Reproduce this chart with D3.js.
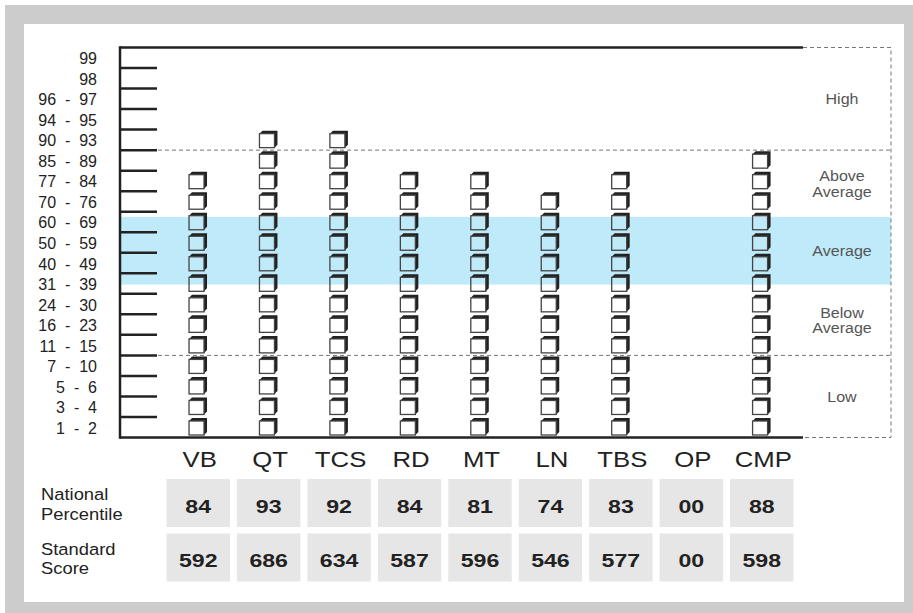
<!DOCTYPE html>
<html>
<head>
<meta charset="utf-8">
<script src="https://cdn.jsdelivr.net/npm/d3@7"></script>
<style>
  body { margin: 0; background: #fff; }
  svg { display: block; font-family: "Liberation Sans", Arial, sans-serif; }
</style>
</head>
<body>
<div id="chart"></div>
<script>
// percentile bands, bottom to top
const bandLow  = [1, 3, 5, 7, 11, 16, 24, 31, 40, 50, 60, 70, 77, 85, 90, 94, 96, 98, 99];
const bandHigh = [2, 4, 6, 10, 15, 23, 30, 39, 49, 59, 69, 76, 84, 89, 93, 95, 97, 98, 99];

const categories = ["VB", "QT", "TCS", "RD", "MT", "LN", "TBS", "OP", "CMP"];
const percentiles = [84, 93, 92, 84, 81, 74, 83, 0, 88];
const standardScores = [592, 686, 634, 587, 596, 546, 577, 0, 598];

// performance zones, in band units (0 = bottom of "1 - 2")
const zoneNames = [["Low"], ["Below", "Average"], ["Average"], ["Above", "Average"], ["High"]];
const zoneFrom = [0, 4, 7.45, 10.75, 14];
const zoneTo = [4, 7.45, 10.75, 14, 19];
const dashedAt = [4, 14];

const W = 913, H = 613;
const axisLeft = 120, axisRight = 803, frameRight = 891;

const svg = d3.select("#chart").append("svg")
  .attr("width", W).attr("height", H);

// frame
svg.append("rect").attr("x", 5).attr("y", 5).attr("width", W).attr("height", H).attr("fill", "#cccccc");
svg.append("rect").attr("x", 24).attr("y", 24).attr("width", 880).attr("height", 578).attr("fill", "#fff");

const y = d3.scaleLinear().domain([0, bandLow.length]).range([437.5, 47.5]);
const x = d3.scaleBand().domain(categories).range([163, 797]).paddingInner(0.1).paddingOuter(0.05);

// average zone shading
svg.append("rect")
  .attr("x", axisLeft).attr("width", frameRight - axisLeft)
  .attr("y", y(zoneTo[2])).attr("height", y(zoneFrom[2]) - y(zoneTo[2]))
  .attr("fill", "#bfeafa");

// dashed zone borders
const dash = svg.append("g").attr("stroke", "#777").attr("stroke-width", 1).attr("stroke-dasharray", "4,3").attr("fill", "none");
dash.selectAll("line.h").data(dashedAt).join("line")
  .attr("x1", 158).attr("x2", frameRight)
  .attr("y1", d => y(d)).attr("y2", d => y(d));
dash.append("path")
  .attr("d", `M${axisRight},${y(bandLow.length)}H${frameRight}V${y(0)}H${axisRight}`);

// axes
const ax = svg.append("g").attr("stroke", "#222").attr("stroke-width", 2.5);
ax.append("line").attr("x1", axisLeft).attr("x2", axisRight).attr("y1", y(bandLow.length)).attr("y2", y(bandLow.length));
ax.append("line").attr("x1", axisLeft).attr("x2", axisRight).attr("y1", y(0)).attr("y2", y(0));
ax.append("line").attr("x1", axisLeft).attr("x2", axisLeft).attr("y1", y(bandLow.length) - 1.2).attr("y2", y(0) + 1.2);
ax.selectAll("line.tick").data(d3.range(1, bandLow.length)).join("line")
  .attr("x1", axisLeft).attr("x2", 157)
  .attr("y1", d => y(d)).attr("y2", d => y(d));

// band labels
svg.append("g").selectAll("text").data(bandLow).join("text")
  .attr("x", 97)
  .attr("y", (d, i) => (y(i) + y(i + 1)) / 2 + 6.5)
  .attr("text-anchor", "end")
  .attr("font-size", 16).attr("fill", "#222")
  .style("white-space", "pre")
  .text((d, i) => d === bandHigh[i] ? `${d}` : `${d}  -  ${bandHigh[i]}`);

// zone labels
const zl = svg.append("g").attr("fill", "#555").attr("font-size", 15).attr("text-anchor", "middle");
zoneNames.forEach((lines, i) => {
  const cy = (y(zoneFrom[i]) + y(zoneTo[i])) / 2;
  lines.forEach((t, j) => {
    zl.append("text")
      .attr("transform", `translate(842,${cy + 5.5 + (j - (lines.length - 1) / 2) * 15.5}) scale(1.07,1)`)
      .text(t);
  });
});

// stacked blocks
const blocks = svg.append("g");
categories.forEach((c, k) => {
  const n = bandLow.filter(l => percentiles[k] > 0 && l <= percentiles[k]).length;
  const fx = x(c) + x.bandwidth() / 2 - 9.2;
  d3.range(n).forEach(i => {
    const fy = y(i) - 16.5;
    const g = blocks.append("g");
    g.append("path")
      .attr("d", `M${fx},${fy}l3,-3h15l-3,3z M${fx + 15},${fy}l3,-3v14l-3,3z`)
      .attr("fill", "#222");
    g.append("rect")
      .attr("x", fx).attr("y", fy).attr("width", 15).attr("height", 14)
      .attr("fill", "none").attr("stroke", "#444").attr("stroke-width", 1.3);
  });
});

// category labels
svg.append("g").selectAll("text").data(categories).join("text")
  .attr("transform", d => `translate(${x(d) + x.bandwidth() / 2 + 1.5},467) scale(1.12,1)`)
  .attr("text-anchor", "middle")
  .attr("font-size", 23).attr("fill", "#222")
  .text(d => d);

// score table
const rows = [
  { label: ["National", "Percentile"], values: percentiles, top: 479 },
  { label: ["Standard", "Score"], values: standardScores, top: 533.5 }
];
const fmt = v => v === 0 ? "00" : `${v}`;
rows.forEach(r => {
  r.label.forEach((t, j) => {
    svg.append("text")
      .attr("transform", `translate(41,${r.top + 21 + j * 19.5}) scale(1.08,1)`)
      .attr("font-size", 17).attr("fill", "#222")
      .text(t);
  });
  const g = svg.append("g");
  g.selectAll("rect").data(categories).join("rect")
    .attr("x", d => x(d)).attr("y", r.top)
    .attr("width", x.bandwidth()).attr("height", 48)
    .attr("fill", "#e6e6e6");
  g.selectAll("text").data(categories).join("text")
    .attr("transform", (d, i) => `translate(${x(d) + x.bandwidth() / 2},${r.top + 33.5}) scale(1.25,1)`)
    .attr("text-anchor", "middle")
    .attr("font-size", 18.5).attr("font-weight", "bold").attr("fill", "#222")
    .text((d, i) => fmt(r.values[i]));
});
</script>
</body>
</html>
